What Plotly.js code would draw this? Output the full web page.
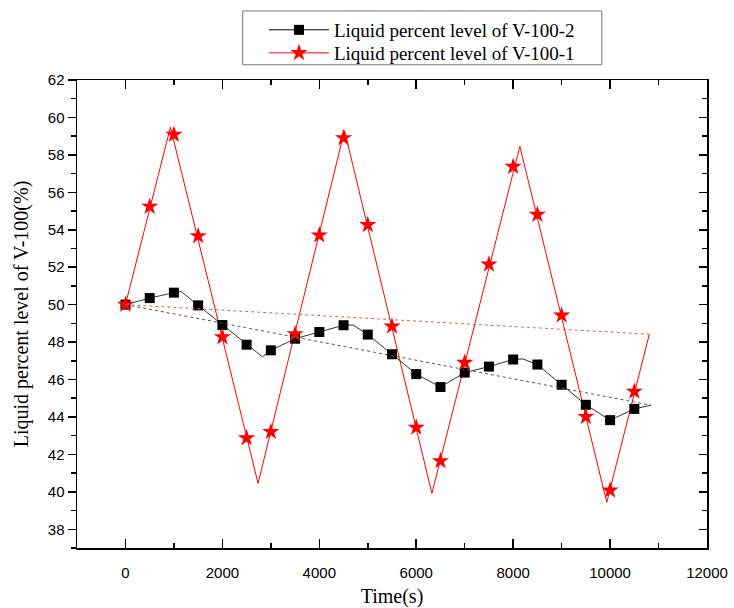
<!DOCTYPE html>
<html>
<head>
<meta charset="utf-8">
<script src="https://cdn.plot.ly/plotly-3.0.1.min.js"></script>
<style>html,body{margin:0;padding:0;background:#fff;}#chart{width:734px;height:608px;}</style>
</head>
<body>
<div id="chart"></div>
<script>
// Sample times (s) of the markers
const markerTime = [0,500,1000,1500,2000,2500,3000,3500,4000,4500,5000,5500,6000,6500,7000,7500,8000,8500,9000,9500,10000,10500];
// Liquid percent level of V-100-2 (squares)
const levelV2 = [50.0,50.35,50.64,49.96,48.91,47.86,47.56,48.18,48.54,48.9,48.4,47.35,46.29,45.6,46.37,46.69,47.07,46.8,45.72,44.65,43.83,44.43];
// Liquid percent level of V-100-1 (stars)
const levelV1 = [50.0,55.24,59.08,53.67,48.27,42.87,43.21,48.43,53.71,58.9,54.26,48.84,43.44,41.65,46.9,52.15,57.37,54.81,49.43,44.01,40.08,45.36];

// Continuous simulated curve of V-100-2
const curveV2Time = [0,500,1000,1150,1500,2000,2500,2830,3000,3500,4000,4500,4700,5000,5500,6000,6500,7000,7500,8000,8200,8500,9000,9500,10000,10500,10845];
const curveV2 = [50.0,50.35,50.64,50.7,49.96,48.91,47.86,47.21,47.56,48.18,48.54,48.9,48.91,48.4,47.35,46.29,45.6,46.37,46.69,47.07,47.1,46.8,45.72,44.65,43.83,44.43,44.63];

// Continuous simulated curve of V-100-1 (turning points)
const curveV1Time = [0,928,2736,4520,6323,8138,9932,10810];
const curveV1 = [50.0,59.48,40.45,59.3,39.92,58.46,39.44,48.42];

// Dotted closing lines (start -> end)
const closeV2Time = [0,10845];
const closeV2 = [50.0,44.63];
const closeV1Time = [0,10810];
const closeV1 = [50.0,48.42];

const xTicks = [0,2000,4000,6000,8000,10000,12000];
const yTicks = [38,40,42,44,46,48,50,52,54,56,58,60,62];

const nameV2 = 'Liquid percent level of V-100-2';
const nameV1 = 'Liquid percent level of V-100-1';

const RED = '#ff0000';
const BLK = '#000000';

const traces = [
  {x: closeV1Time, y: closeV1, mode: 'lines', line: {color: '#e06060', width: 1, dash: 'dot'}, showlegend: false, hoverinfo: 'skip', yaxis: 'y2'},
  {x: closeV2Time, y: closeV2, mode: 'lines', line: {color: '#555555', width: 1, dash: 'dot'}, showlegend: false, hoverinfo: 'skip', yaxis: 'y2'},
  {x: curveV1Time, y: curveV1, mode: 'lines', line: {color: RED, width: 1}, showlegend: false},
  {x: curveV2Time, y: curveV2, mode: 'lines', line: {color: '#333333', width: 1}, showlegend: false},
  {x: markerTime, y: levelV2, mode: 'markers', marker: {symbol: 'square', size: 10, color: BLK}, showlegend: false},
  {x: markerTime, y: levelV1, mode: 'markers', marker: {symbol: 'star', size: 13, color: RED, line: {width: 0}}, showlegend: false},
  // legend entries
  {x: [null], y: [null], name: nameV2, mode: 'lines+markers', line: {color: BLK, width: 1}, marker: {symbol: 'square', size: 10, color: BLK}, legend: 'legend'},
  {x: [null], y: [null], name: nameV1, mode: 'lines+markers', line: {color: RED, width: 1}, marker: {symbol: 'star', size: 13, color: RED}, legend: 'legend2'}
];

const tickFont = {family: 'Liberation Sans, Arial, sans-serif', size: 15, color: '#000'};
const titleFont = {family: 'Liberation Serif, Times New Roman, serif', size: 20, color: '#000'};
const legFont = {family: 'Liberation Serif, Times New Roman, serif', size: 19, color: '#000'};

const legCommon = {xanchor: 'left', yanchor: 'middle', borderwidth: 0, bgcolor: 'rgba(0,0,0,0)', font: legFont, itemwidth: 60};

const layout = {
  width: 734, height: 608,
  margin: {l: 77, r: 27, t: 79, b: 60},
  paper_bgcolor: '#fff', plot_bgcolor: '#fff',
  showlegend: true,
  legend: Object.assign({x: 0.2968, y: 1.1045}, legCommon),
  legend2: Object.assign({x: 0.2968, y: 1.0554}, legCommon),
  shapes: [
    {type: 'rect', xref: 'paper', yref: 'paper', x0: 0.263, x1: 0.833, y0: 1.0325, y1: 1.1476, line: {color: '#777', width: 1}, fillcolor: 'rgba(0,0,0,0)'}
  ],
  xaxis: {
    range: [-1000, 12000], tickvals: xTicks, ticktext: xTicks.map(String),
    ticks: 'inside', ticklen: 9, tickwidth: 1.5, tickcolor: '#000',
    minor: {dtick: 1000, tick0: 0, ticks: 'inside', ticklen: 5, tickwidth: 1.5, tickcolor: '#000'},
    showline: true, linecolor: '#000', linewidth: 1.5, mirror: 'ticks',
    showgrid: false, zeroline: false, tickfont: tickFont, ticklabelstandoff: 10,
    title: {text: 'Time(s)', font: titleFont, standoff: 9}
  },
  yaxis: {
    range: [37, 62], tickvals: yTicks, ticktext: yTicks.map(String),
    ticks: 'outside', ticklen: 8, tickwidth: 1.5, tickcolor: '#000',
    minor: {dtick: 1, tick0: 37, ticks: 'outside', ticklen: 5, tickwidth: 1.5, tickcolor: '#000'},
    showline: true, linecolor: '#000', linewidth: 1.5, mirror: false,
    showgrid: false, zeroline: false, tickfont: tickFont,
    title: {text: 'Liquid percent level of V-100(%)', font: titleFont, standoff: 14}
  },
  yaxis2: {
    overlaying: 'y', side: 'right', range: [37, 62], tickvals: yTicks,
    ticks: 'inside', ticklen: 8, tickwidth: 1.5, tickcolor: '#000',
    minor: {dtick: 1, tick0: 37, ticks: 'inside', ticklen: 5, tickwidth: 1.5, tickcolor: '#000'},
    showline: true, linecolor: '#000', linewidth: 1.5, showticklabels: false,
    showgrid: false, zeroline: false
  }
};

Plotly.newPlot('chart', traces, layout, {displayModeBar: false, staticPlot: true});
</script>
</body>
</html>
